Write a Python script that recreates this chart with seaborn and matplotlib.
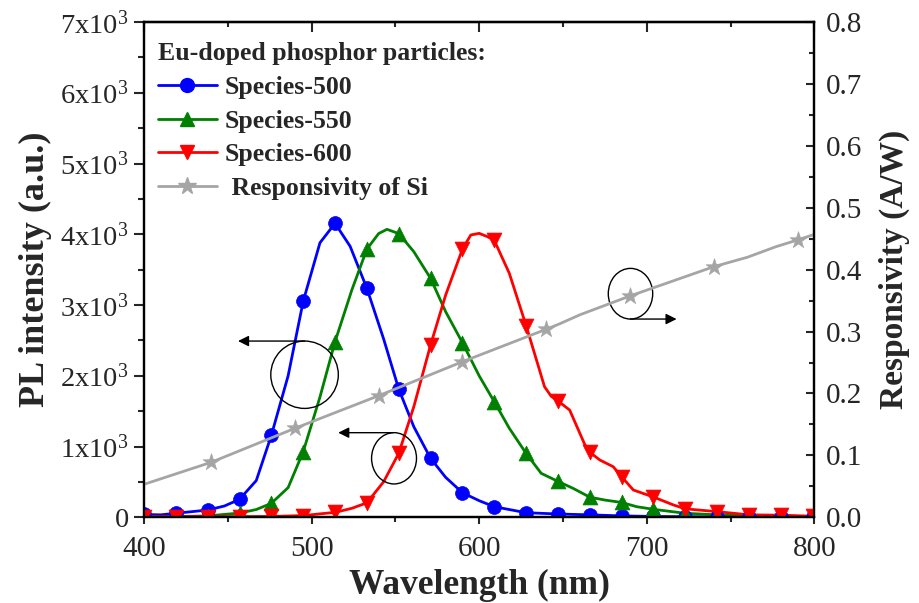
import numpy as np
import pandas as pd
import matplotlib
matplotlib.use("Agg")
import matplotlib.pyplot as plt
import seaborn as sns
from matplotlib.lines import Line2D
from matplotlib.patches import Ellipse
from matplotlib.ticker import MultipleLocator, FixedLocator, FixedFormatter

# ---------------- data ----------------
marker_wl = [400, 419, 438, 457, 476, 495, 514, 533, 552, 571, 590, 609, 628, 647,
             666, 685, 704, 723, 742, 761, 780, 799]
s500_mk = [50, 57, 103, 254, 1159, 3053, 4155, 3236, 1813, 834, 348, 150, 65, 47,
           35, 20, 12, 8, 5, 5, 5, 5]
s550_mk = [5, 10, 20, 60, 198, 927, 2482, 3790, 4010, 3378, 2468, 1634, 904, 508,
           285, 210, 113, 57, 35, 20, 15, 10]
s600_mk = [10, 10, 10, 10, 12, 25, 70, 205, 904, 2435, 3790, 3915, 2710, 1645,
           920, 574, 287, 120, 80, 35, 30, 15]

s500_line_wl = [400, 410, 419, 438, 448, 457, 467, 476, 486, 495, 505, 514, 523, 533,
                543, 552, 561, 571, 580, 590, 600, 609, 628, 647, 666, 685, 704, 723,
                742, 761, 780, 800]
s500_line = [40, 35, 57, 103, 160, 254, 520, 1159, 2000, 3053, 3880, 4155, 3830, 3236,
             2520, 1813, 1280, 834, 565, 348, 235, 150, 65, 47, 35, 20, 12, 8,
             5, 5, 5, 5]

s550_line_wl = [400, 419, 438, 457, 467, 476, 486, 495, 505, 514, 524, 533, 540, 545,
                552, 561, 571, 580, 590, 600, 609, 618, 628, 637, 647, 656, 666, 675,
                685, 694, 704, 723, 742, 761, 780, 800]
s550_line = [5, 10, 20, 60, 110, 198, 420, 927, 1700, 2482, 3212, 3790, 4010, 4070,
             4010, 3754, 3378, 2906, 2468, 2000, 1634, 1258, 904, 622, 508, 410, 285, 244,
             210, 150, 113, 57, 35, 20, 15, 10]

s600_line_wl = [400, 419, 438, 457, 476, 495, 514, 524, 533, 543, 552, 561, 571, 580,
                590, 595, 600, 605, 609, 618, 628, 633, 639, 643, 647, 654, 663, 666, 672,
                680, 685, 692, 704, 716, 723, 742, 761, 780, 800]
s600_line = [10, 10, 10, 10, 12, 25, 70, 127, 205, 503, 904, 1563, 2435, 3141,
             3790, 3990, 4013, 3966, 3915, 3448, 2710, 2318, 1846, 1710, 1645, 1516, 1030, 920, 810,
             715, 574, 386, 287, 174, 120, 80, 35, 30, 15]

si_mk_wl = [440, 490, 540, 590, 640, 690, 740, 790]
si_mk = [0.0888, 0.1437, 0.1964, 0.2513, 0.3037, 0.3575, 0.4048, 0.448]
si_line_wl = [400, 440, 490, 540, 590, 640, 648, 660, 690, 740, 760, 777, 790, 800]
si_line = [0.0533, 0.0888, 0.1437, 0.1964, 0.2513, 0.3037, 0.3125, 0.327, 0.3575,
           0.4048, 0.42, 0.437, 0.448, 0.457]

series_names = ["Species-500", "Species-550", "Species-600"]
legend_title = "Eu-doped phosphor particles:"
si_name = " Responsivity of Si"
left_ticks = [0, 1000, 2000, 3000, 4000, 5000, 6000, 7000]
left_ticklabels = ["0"] + [r"$\mathregular{%dx10^{3}}$" % i for i in range(1, 8)]

# ---------------- style ----------------
sns.set_style("ticks")
plt.rcParams["font.family"] = ["Liberation Serif", "DejaVu Serif"]
plt.rcParams["mathtext.fontset"] = "custom"
plt.rcParams["mathtext.rm"] = "Liberation Serif"
plt.rcParams["mathtext.it"] = "Liberation Serif:italic"
plt.rcParams["mathtext.bf"] = "Liberation Serif:bold"

colors = ["#0000FF", "#008000", "#FF0000"]
gray = "#A5A5A5"

fig = plt.figure(figsize=(9.19, 6.03), dpi=100)
ax = fig.add_axes([0.1567, 0.1421, 0.7294, 0.8214])
ax2 = ax.twinx()

lines_wl = [s500_line_wl, s550_line_wl, s600_line_wl]
lines_v = [s500_line, s550_line, s600_line]
marks = [s500_mk, s550_mk, s600_mk]
mshapes = ["o", "^", "v"]
msizes = [100, 115, 115]

for name, lw_, lv, mk, c, m, ms in zip(series_names, lines_wl, lines_v, marks, colors, mshapes, msizes):
    d_line = pd.DataFrame({"wl": lw_, "v": lv})
    d_mk = pd.DataFrame({"wl": marker_wl, "v": mk})
    sns.lineplot(data=d_line, x="wl", y="v", ax=ax, color=c, lw=2, sort=True)
    sns.scatterplot(data=d_mk, x="wl", y="v", ax=ax, color=c, marker=m, s=ms,
                    edgecolor=c, linewidth=0.5, zorder=3)

d_si = pd.DataFrame({"wl": si_line_wl, "v": si_line})
d_si_mk = pd.DataFrame({"wl": si_mk_wl, "v": si_mk})
sns.lineplot(data=d_si, x="wl", y="v", ax=ax2, color=gray, lw=2)
sns.scatterplot(data=d_si_mk, x="wl", y="v", ax=ax2, color=gray, marker="*", s=160,
                edgecolor=gray, linewidth=0.5, zorder=3)

# ---------------- axes ----------------
ax.set_xlim(400, 800)
ax.set_ylim(0, 7000)
ax2.set_ylim(0, 0.8)

ax.xaxis.set_major_locator(MultipleLocator(100))
ax.xaxis.set_minor_locator(MultipleLocator(50))
ax.yaxis.set_major_locator(FixedLocator(left_ticks))
ax.yaxis.set_major_formatter(FixedFormatter(left_ticklabels))
ax.yaxis.set_minor_locator(MultipleLocator(500))
ax2.yaxis.set_major_locator(MultipleLocator(0.1))
ax2.yaxis.set_minor_locator(MultipleLocator(0.05))
ax2.yaxis.set_major_formatter(matplotlib.ticker.FormatStrFormatter("%.1f"))

ax.tick_params(axis="y", which="major", direction="out", length=7, width=1.5,
               labelsize=20.5, pad=4)
ax.tick_params(axis="y", which="minor", direction="out", length=4.5, width=1.5)
ax.tick_params(axis="x", which="major", direction="out", length=5, width=1.5,
               labelsize=21, pad=8.5)
ax.tick_params(axis="x", which="minor", direction="out", length=3.5, width=1.5)
ax2.tick_params(axis="y", which="major", direction="in", length=6, width=1.5,
                labelsize=21, pad=8)
ax2.tick_params(axis="y", which="minor", direction="in", length=3.5, width=1.5)

top = ax.secondary_xaxis("top")
top.xaxis.set_major_locator(MultipleLocator(100))
top.xaxis.set_minor_locator(MultipleLocator(50))
top.tick_params(axis="x", which="major", direction="in", length=7, width=1.5, labeltop=False)
top.tick_params(axis="x", which="minor", direction="in", length=3.5, width=1.5)

for a in (ax, ax2):
    for sp in a.spines.values():
        sp.set_linewidth(1.6)
        sp.set_color("black")
top.spines["top"].set_linewidth(1.6)

ax.set_xlabel("Wavelength (nm)", fontsize=25.5, fontweight="bold", labelpad=5)
ax.set_ylabel("PL intensity (a.u.)", fontsize=26, fontweight="bold", labelpad=6)
ax2.set_ylabel("Responsivity (A/W)", fontsize=24, fontweight="bold", labelpad=12)

# ---------------- annotations ----------------
arrow_kw = dict(arrowstyle="-|>", color="black", lw=1, mutation_scale=16,
                shrinkA=0, shrinkB=0)
ax.add_patch(Ellipse((495.8, 2015), 40.3, 952, fill=False, lw=1, ec="black", zorder=5))
ax.annotate("", xy=(456.1, 2491), xytext=(495.8, 2491), arrowprops=arrow_kw, zorder=5)
ax.add_patch(Ellipse((549.2, 834), 26.8, 725, fill=False, lw=1, ec="black", zorder=5))
ax.annotate("", xy=(515.9, 1196), xytext=(548.6, 1196), arrowprops=arrow_kw, zorder=5)
ax.add_patch(Ellipse((690.3, 3160), 26.5, 716, fill=False, lw=1, ec="black", zorder=5))
ax.annotate("", xy=(717.8, 2802), xytext=(690.3, 2802), arrowprops=arrow_kw, zorder=5)

# ---------------- legend ----------------
handles = [Line2D([], [], color=c, lw=2, marker=m, markersize=10)
           for c, m in zip(colors, mshapes)]
handles.append(Line2D([], [], color=gray, lw=2, marker="*", markersize=13))
labels = series_names + [si_name]
leg = ax2.legend(handles, labels, title=legend_title, loc="upper left",
                 bbox_to_anchor=(0.013, 0.97), frameon=False,
                 prop={"weight": "bold", "size": 18.5},
                 title_fontproperties={"weight": "bold", "size": 18.5},
                 handlelength=2.3, handletextpad=0.3, labelspacing=0.42,
                 borderpad=0.2, borderaxespad=0)
leg._legend_box.align = "left"

ax.set_zorder(1)
ax2.set_zorder(2)
ax2.patch.set_visible(False)

fig.savefig("out.png", dpi=100)
